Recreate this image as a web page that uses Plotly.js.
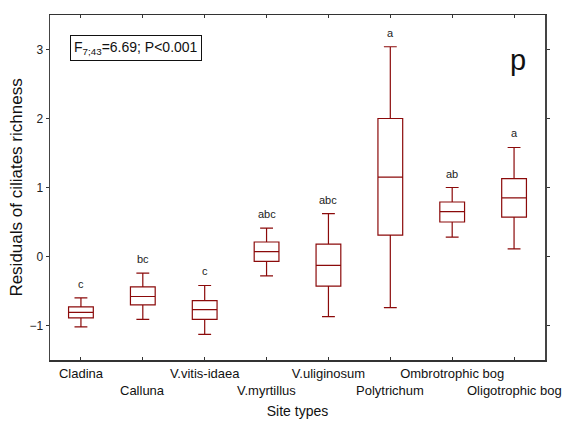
<!DOCTYPE html>
<html>
<head>
<meta charset="utf-8">
<script src="https://cdn.plot.ly/plotly-3.0.1.min.js"></script>
<style>html,body{margin:0;padding:0;background:#fff;}#chart{width:571px;height:425px;}</style>
</head>
<body>
<div id="chart"></div>
<script>
// Data
const siteTypes = ["Cladina", "Calluna", "V.vitis-idaea", "V.myrtillus", "V.uliginosum", "Polytrichum", "Ombrotrophic bog", "Oligotrophic bog"];
const lowerWhisker = [-1.02, -0.91, -1.13, -0.28, -0.87, -0.74, 0.28, 0.11];
const q1Values     = [-0.89, -0.70, -0.91, -0.07, -0.43, 0.31, 0.50, 0.57];
const medianValues = [-0.81, -0.58, -0.77, 0.07, -0.13, 1.15, 0.65, 0.85];
const q3Values     = [-0.73, -0.44, -0.64, 0.21, 0.18, 2.00, 0.79, 1.13];
const upperWhisker = [-0.60, -0.24, -0.42, 0.41, 0.62, 3.04, 1.00, 1.58];
const groupLetters = ["c", "bc", "c", "abc", "abc", "a", "ab", "a"];
const yTicks = [-1, 0, 1, 2, 3];

const xIdx = siteTypes.map((_, i) => i);
const evenIdx = xIdx.filter(i => i % 2 === 0);
const oddIdx = xIdx.filter(i => i % 2 === 1);
const boxColor = "#8b0a0a";
const font = "Liberation Sans, Arial, sans-serif";

const trace = {
  type: "box",
  x: xIdx,
  q1: q1Values,
  median: medianValues,
  q3: q3Values,
  lowerfence: lowerWhisker,
  upperfence: upperWhisker,
  width: 0.4,
  whiskerwidth: 0.52,
  line: {color: boxColor, width: 1.2},
  fillcolor: "rgba(255,255,255,0)",
  boxpoints: false,
  hoverinfo: "skip",
  showlegend: false
};

const annotations = groupLetters.map((t, i) => ({
  x: i, y: upperWhisker[i], xref: "x", yref: "y",
  text: t, showarrow: false, yanchor: "bottom", yshift: 6,
  font: {family: font, size: 11, color: "#222"}
}));
// staggered second-row category labels (odd positions)
oddIdx.forEach(i => {
  annotations.push({
    x: i, y: 0, xref: "x", yref: "paper", xanchor: "center", yanchor: "top",
    yshift: -21, text: siteTypes[i], showarrow: false,
    font: {family: font, size: 13, color: "#111"}
  });
});
annotations.push({
  x: 0.04, y: 0.942, xref: "paper", yref: "paper", xanchor: "left", yanchor: "top",
  text: "F<sub>7;43</sub>=6.69; P<0.001", showarrow: false,
  bordercolor: "#111", borderwidth: 1, borderpad: 3, bgcolor: "#fff",
  font: {family: font, size: 14, color: "#111"}
});
annotations.push({
  x: 0.945, y: 0.87, xref: "paper", yref: "paper", xanchor: "center", yanchor: "middle",
  text: "p", showarrow: false,
  font: {family: font, size: 29, color: "#111"}
});

const layout = {
  width: 571, height: 425,
  margin: {l: 50, r: 26, t: 15, b: 65},
  paper_bgcolor: "#fff", plot_bgcolor: "#fff",
  font: {family: font, size: 12, color: "#222"},
  xaxis: {
    range: [-0.5, 7.5],
    tickmode: "array",
    tickvals: evenIdx,
    ticktext: evenIdx.map(i => siteTypes[i]),
    ticks: "inside", ticklen: 3, tickcolor: "#333",
    minor: {tickmode: "array", tickvals: oddIdx, ticks: "inside", ticklen: 3, tickcolor: "#333", showgrid: false},
    showline: true, linecolor: "#333", linewidth: 1.5, mirror: "ticks",
    showgrid: false, zeroline: false,
    ticklabelstandoff: 1,
    tickfont: {family: font, size: 13, color: "#111"},
    title: {text: "Site types", font: {family: font, size: 14, color: "#111"}, standoff: 26}
  },
  yaxis: {
    range: [-1.5, 3.5],
    tickmode: "array",
    tickvals: yTicks,
    ticks: "outside", ticklen: 3, tickcolor: "#333",
    showline: true, linecolor: "#444", linewidth: 1.5, mirror: "ticks",
    showgrid: false, zeroline: false,
    tickfont: {family: font, size: 12, color: "#222"},
    title: {text: "Residuals of ciliates richness", font: {family: font, size: 17, color: "#111"}, standoff: 2}
  },
  annotations: annotations
};

Plotly.newPlot("chart", [trace], layout, {displayModeBar: false, staticPlot: true});
</script>
</body>
</html>
